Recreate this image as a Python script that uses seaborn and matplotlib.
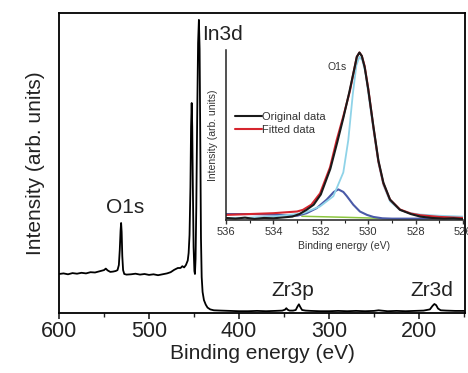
import numpy as np
import pandas as pd
import matplotlib
matplotlib.use("Agg")
import matplotlib.pyplot as plt
from matplotlib.ticker import MultipleLocator
import seaborn as sns

# ---------------- data ----------------
# Survey spectrum
survey_energy = [600, 595, 590, 585, 580, 575, 570, 565, 560, 555, 550, 548, 546, 543, 540, 537,
                 535, 533.5, 532.5, 531.6, 531, 530.4, 529.7, 528.8, 527.5, 525, 520, 515, 510, 505,
                 500, 495, 490, 485, 480, 476, 472, 468, 465, 463, 461, 459, 457, 456, 455, 454,
                 453.3, 452.6, 452, 451.3, 450.5, 449.6, 449, 448.3, 447.5, 446.5, 445.5, 444.6,
                 443.8, 443, 442.3, 441.5, 440.5, 439, 437, 435, 432, 428, 420, 410, 400, 390, 380,
                 370, 360, 352, 349, 347.5, 346, 344, 340, 337, 335, 333.5, 332, 330, 326, 320, 310,
                 300, 290, 280, 270, 260, 250, 245, 242, 235, 225, 215, 205, 195, 188, 185, 183,
                 181, 179, 176, 170, 160, 150]
survey_intensity = [13.0, 13.2, 12.9, 13.3, 13.1, 13.4, 13.2, 13.6, 13.5, 13.9, 14.3, 14.8, 14.2, 13.7, 13.8, 14.0,
                    14.3, 16.0, 21.0, 27.5, 30.0, 27.0, 19.0, 14.3, 13.0, 12.8, 12.9, 13.1, 12.8, 13.0,
                    12.7, 12.9, 12.6, 12.9, 13.2, 13.6, 14.4, 15.0, 15.0, 15.6, 15.2, 16.0, 17.5, 20.0, 26.0, 42.0,
                    62.0, 70.0, 62.0, 42.0, 22.0, 14.0, 13.0, 18.0, 35.0, 65.0, 90.0, 97.7,
                    88.0, 55.0, 25.0, 12.0, 7.0, 4.3, 2.8, 1.8, 1.2, 0.9, 0.8, 0.7, 0.6, 0.6, 0.7,
                    0.6, 0.7, 0.8, 1.1, 1.6, 1.1, 0.8, 0.8, 1.0, 2.2, 2.9, 2.0, 1.0, 0.8, 0.7, 0.6,
                    0.6, 0.7, 0.6, 0.7, 0.6, 0.7, 0.9, 0.8, 0.6, 0.7, 0.6, 0.7, 0.8, 1.2, 2.4, 3.0,
                    2.6, 1.5, 0.9, 0.8, 0.7, 0.7]
survey_ticks = [600, 500, 400, 300, 200]
peak_labels = ["O1s", "In3d", "Zr3p", "Zr3d"]

# O1s high-resolution inset
orig_energy = [536, 535.6, 535.2, 534.8, 534.4, 534, 533.6, 533.2, 532.9, 532.6, 532.3, 532.0, 531.6,
               531.3, 531.05, 530.8, 530.6, 530.48, 530.37, 530.27, 530.15, 530.0, 529.78, 529.57,
               529.36, 529.08, 528.66, 528.2, 527.8, 527.3, 526.8, 526.4, 526]
orig_int = [0.012, 0.008, 0.014, 0.006, 0.012, 0.010, 0.015, 0.020, 0.035, 0.060, 0.090, 0.150, 0.300,
            0.460, 0.600, 0.750, 0.880, 0.960, 0.985, 0.965, 0.900, 0.770, 0.550, 0.350,
            0.220, 0.120, 0.060, 0.035, 0.020, 0.012, 0.008, 0.010, 0.005]
fit_energy = [536, 535, 534, 533.5, 533, 532.75, 532.4, 532.03, 531.61, 531.33, 531.05, 530.77, 530.6,
              530.48, 530.37, 530.27, 530.15, 529.99, 529.78, 529.57, 529.36, 529.08, 528.66, 528.2,
              527.8, 527, 526]
fit_int = [0.030, 0.035, 0.040, 0.045, 0.050, 0.060, 0.090, 0.157, 0.310, 0.470, 0.610, 0.760, 0.880,
           0.960, 0.985, 0.965, 0.905, 0.765, 0.545, 0.345, 0.215, 0.120, 0.062, 0.038,
           0.028, 0.018, 0.012]
main_energy = [536, 535, 534.85, 534, 533.5, 532.74, 532.03, 531.47, 531.05, 530.84, 530.65, 530.5,
               530.37, 530.25, 530.12, 529.99, 529.78, 529.57, 529.36, 529.08, 528.66, 528.2, 527.8,
               527, 526]
main_int = [0.012, 0.014, 0.015, 0.020, 0.028, 0.040, 0.080, 0.140, 0.280, 0.470, 0.740, 0.910,
            0.960, 0.940, 0.870, 0.740, 0.530, 0.335, 0.205, 0.110, 0.058, 0.040, 0.032,
            0.025, 0.020]
second_energy = [536, 535, 534, 533.5, 533, 532.6, 532.17, 531.75, 531.45, 531.26, 531.05, 530.9,
                 530.63, 530.35, 530.05, 529.78, 529.4, 529, 528, 527, 526]
second_int = [0.035, 0.035, 0.032, 0.028, 0.025, 0.040, 0.070, 0.120, 0.165, 0.180, 0.165, 0.140,
              0.090, 0.050, 0.030, 0.018, 0.010, 0.008, 0.008, 0.010, 0.008]
bg_energy = [532.8, 531, 529.5]
bg_int = [0.022, 0.016, 0.010]
inset_ticks = [536, 534, 532, 530, 528, 526]
legend_labels = ["Original data", "Fitted data"]

# ---------------- plotting ----------------
sns.set_theme(style="ticks")
plt.rcParams["font.family"] = ["Liberation Sans", "DejaVu Sans"]
txt = "#222222"
plt.rcParams["text.color"] = txt
plt.rcParams["axes.labelcolor"] = txt
plt.rcParams["xtick.color"] = txt
plt.rcParams["ytick.color"] = txt

fig = plt.figure(figsize=(4.68, 3.73), dpi=100)
ax = fig.add_axes([59 / 468, 1 - 313 / 373, (465 - 59) / 468, (313 - 13) / 373])

df_s = pd.DataFrame({"E": survey_energy, "I": survey_intensity})
sns.lineplot(data=df_s, x="E", y="I", ax=ax, color="black", lw=1.3, sort=False, estimator=None)
ax.set_xlim(600, 149)
ax.set_ylim(0, 100)
ax.set_yticks([])
ax.set_xticks(survey_ticks)
ax.xaxis.set_minor_locator(MultipleLocator(50))
ax.tick_params(axis="x", which="major", direction="out", length=4, width=1.2, labelsize=15.5, pad=2)
ax.tick_params(axis="x", which="minor", direction="out", length=3, width=1.0)
ax.set_xlabel("Binding energy (eV)", fontsize=15, labelpad=1)
ax.set_ylabel("Intensity (arb. units)", fontsize=15, labelpad=10)
for s in ax.spines.values():
    s.set_linewidth(1.3)
    s.set_color("black")
    s.set_visible(True)

ax.text(526.7, 35.3, peak_labels[0], fontsize=15, ha="center", va="center")
ax.text(441, 93, peak_labels[1], fontsize=15, ha="left", va="center")
ax.text(340, 7.6, peak_labels[2], fontsize=15, ha="center", va="center")
ax.text(185.5, 7.6, peak_labels[3], fontsize=15, ha="center", va="center")

# inset
axi = fig.add_axes([226 / 468, 1 - 220 / 373, (463 - 226) / 468, (220 - 50) / 373])
axi.patch.set_alpha(0)
sns.lineplot(x=bg_energy, y=bg_int, ax=axi, color="#8cc63f", lw=1.1, sort=False, estimator=None)
sns.lineplot(x=second_energy, y=second_int, ax=axi, color="#4a5aa8", lw=1.5, sort=False, estimator=None)
sns.lineplot(x=main_energy, y=main_int, ax=axi, color="#8fd3e8", lw=1.3, sort=False, estimator=None)
sns.lineplot(x=fit_energy, y=fit_int, ax=axi, color="#d6252e", lw=1.5, sort=False, estimator=None,
             label=legend_labels[1])
sns.lineplot(x=orig_energy, y=orig_int, ax=axi, color="#1a1a1a", lw=1.5, sort=False, estimator=None,
             label=legend_labels[0])
axi.set_xlim(536, 526)
axi.set_ylim(0, 1.0)
axi.set_yticks([])
axi.set_xticks(inset_ticks)
axi.xaxis.set_minor_locator(MultipleLocator(1))
axi.tick_params(axis="x", which="major", direction="out", length=3, width=1.0, labelsize=8, pad=2,
                colors="#333333")
axi.tick_params(axis="x", which="minor", direction="out", length=2, width=0.8)
axi.set_xlabel("Binding energy (eV)", fontsize=7.5, color="#333333", labelpad=3)
axi.set_ylabel("Intensity (arb. units)", fontsize=7.5, color="#333333", labelpad=6)
axi.spines["top"].set_visible(False)
axi.spines["right"].set_visible(False)
for k in ("left", "bottom"):
    axi.spines[k].set_linewidth(1.1)
    axi.spines[k].set_color("#222222")
axi.text(531.3, 0.9, "O1s", fontsize=7.5, ha="center", va="center", color="#333333")

h, l = axi.get_legend_handles_labels()
order = [l.index(legend_labels[0]), l.index(legend_labels[1])]
leg = axi.legend([h[i] for i in order], [l[i] for i in order], loc="upper left",
                 bbox_to_anchor=(0.02, 0.66), frameon=False, fontsize=8, handlelength=2.4,
                 handletextpad=0.0, labelspacing=0.25, borderaxespad=0)
for t in leg.get_texts():
    t.set_color("#333333")

fig.savefig("out.png", dpi=100)
